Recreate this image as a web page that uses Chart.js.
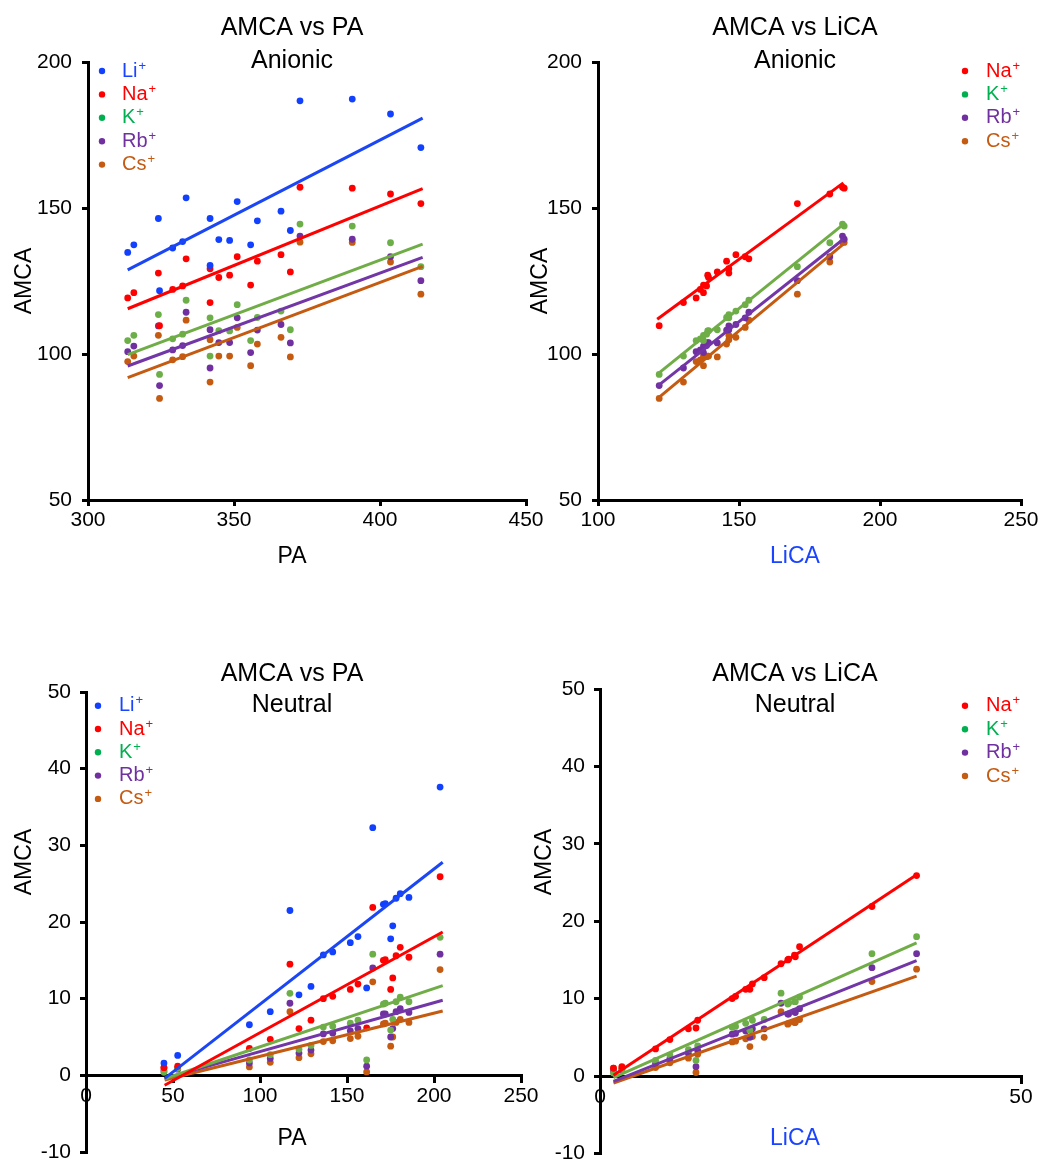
<!DOCTYPE html>
<html>
<head>
<meta charset="utf-8">
<script src="https://cdn.jsdelivr.net/npm/chart.js@4.4.1/dist/chart.umd.min.js"></script>
<style>
  body { margin: 0; background: #fff; width: 1039px; height: 1165px; overflow: hidden; position: relative; }
  canvas { position: absolute; }
</style>
</head>
<body>
<canvas id="c1" width="546" height="590" style="left:0px;top:0px"></canvas>
<canvas id="c2" width="531" height="590" style="left:510px;top:0px"></canvas>
<canvas id="c3" width="546" height="575" style="left:0px;top:600px"></canvas>
<canvas id="c4" width="531" height="575" style="left:510px;top:600px"></canvas>
<script>
// anionic set, one entry per molecule
const anPA = [313.6, 315.7, 324.1, 324.5, 329.0, 332.4, 333.6, 341.8, 341.8, 344.8, 348.5, 351.1, 355.7, 358.0, 366.1, 369.3, 372.6, 390.5, 403.6, 414.0];
const anLi = [134.8, 137.4, 146.4, 121.7, 136.3, 138.5, 153.5, 146.4, 130.3, 139.2, 138.9, 152.2, 137.4, 145.6, 148.9, 142.3, 186.7, 187.3, 182.2, 170.7];
const anNa = [119.2, 121.0, 127.7, 109.7, 122.1, 123.3, 132.6, 129.2, 117.6, 126.2, 127.0, 133.3, 123.6, 131.8, 134.0, 128.1, 157.1, 156.8, 154.8, 151.5];
const anK  = [104.6, 106.4, 113.5,  93.0, 105.2, 106.8, 118.4, 112.4,  99.3, 108.0, 107.9, 116.9, 104.6, 112.5, 114.7, 108.3, 144.5, 143.8, 138.1, 129.9];
const anRb = [100.8, 102.7, 109.6,  89.2, 101.4, 102.9, 114.3, 108.3,  95.2, 103.9, 103.9, 112.4, 100.5, 108.2, 110.1, 103.8, 140.4, 139.3, 133.3, 125.1];
const anCs = [ 97.4,  99.3, 106.4,  84.8,  98.0,  99.1, 111.6, 104.9,  90.4,  99.3,  99.3, 109.1,  96.0, 103.4, 105.7,  99.0, 138.3, 138.2, 131.5, 120.5];

// neutral set
const neuPA = [44.8, 52.7, 93.9, 105.9, 117.2, 122.4, 129.3, 136.4, 141.8, 151.9, 156.3, 161.3, 164.8, 170.9, 172.0, 175.1, 176.3, 178.2, 180.6, 185.6, 203.5];
const neuLi = [1.6, 2.6, 6.6, 8.3, 21.5, 10.5, 11.6, 15.7, 16.1, 17.3, 18.1, 11.4, 32.3, 22.3, 22.4, 17.8, 19.5, 23.1, 23.7, 23.2, 37.6];
const neuNa = [1.0, 1.2, 3.5, 4.7, 14.5, 6.1, 7.2, 10.0, 10.3, 11.2, 11.9, 6.2, 21.9, 15.0, 15.1, 11.2, 12.7, 15.6, 16.7, 15.4, 25.9];
const neuK  = [0.4, 0.9, 2.0, 2.7, 10.7, 3.4, 3.9, 6.3, 6.4, 6.8, 7.2, 2.0, 15.8, 9.3, 9.4, 5.9, 7.3, 9.6, 10.2, 9.6, 18.0];
const neuRb = [0.6, 0.8, 1.6, 2.2, 9.4, 2.9, 3.3, 5.4, 5.5, 5.8, 6.1, 1.2, 14.0, 8.0, 8.0, 5.0, 6.1, 8.3, 8.7, 8.2, 15.8];
const neuCs = [1.0, 1.0, 1.1, 1.7, 8.3, 2.3, 2.8, 4.4, 4.5, 4.8, 5.1, 0.45, 12.2, 6.7, 6.8, 3.8, 5.0, 6.9, 7.3, 6.9, 13.8];

// trend line end points
const fitAnPAx = [313.6, 414.6];
const fitAnPAy = [[128.8, 180.8], [115.5, 156.6], [99.8, 137.6], [95.9, 133.1], [91.9, 130.0]];   // Li Na K Rb Cs
const fitAnLiCAx = [121.0, 187.0];
const fitAnLiCAy = [[111.9, 158.6], [93.0, 144.4], [88.9, 139.3], [84.6, 137.6]];                 // Na K Rb Cs
const fitNeuPAx = [45.2, 205.0];
const fitNeuPAy = [[-0.4, 27.8], [-1.3, 18.7], [-0.45, 11.7], [-0.4, 9.8], [-0.6, 8.4]];
const fitNeuLiCAx = [1.6, 37.6];
const fitNeuLiCAy = [[0.1, 26.0], [-0.2, 17.2], [-0.7, 14.9], [-0.9, 12.9]];

const ionLabels = ['Li+', 'Na+', 'K+', 'Rb+', 'Cs+'];
const pointColors = ['#1140ff', '#ff0000', '#6cae48', '#7030a0', '#c55a11'];
const lineColors = ['#1a46f5', '#ff0000', '#70ad47', '#7236a6', '#c55a11'];
const textColors = ['#1a44ff', '#ff0000', '#00b050', '#7030a0', '#c55a11'];

const FONT = '"Liberation Sans", Arial, Helvetica, sans-serif';

function pts(xs, ys) {
    return xs.map((x, i) => ({ x: x, y: ys[i] }));
}

function scatterSet(k, xs, ys) {
    return {
        label: ionLabels[k],
        data: pts(xs, ys),
        showLine: false,
        backgroundColor: pointColors[k],
        pointRadius: 3.4,
        pointHoverRadius: 3.4,
        pointBorderWidth: 0,
        legendColor: k == 2 ? '#00b050' : pointColors[k],
        textColor: textColors[k]
    };
}

function fitSet(k, xs, ys) {
    return {
        isFit: true,
        data: pts(xs, ys),
        showLine: true,
        borderColor: lineColors[k],
        borderWidth: 3,
        pointRadius: 0,
        pointHoverRadius: 0,
        fill: false
    };
}

// titles, axis titles and the little legend are drawn here
const panelText = {
    id: 'panelText',
    afterDraw(chart, args, opts) {
        const ctx = chart.ctx;
        ctx.save();
        ctx.textBaseline = 'middle';
        (opts.items || []).forEach(t => {
            ctx.save();
            ctx.font = t.size + 'px ' + FONT;
            ctx.fillStyle = t.color || '#000';
            ctx.textAlign = 'center';
            ctx.translate(t.x, t.y);
            if (t.rot) ctx.rotate(t.rot);
            ctx.fillText(t.text, 0, 0);
            ctx.restore();
        });
        const lg = opts.legend;
        let i = 0;
        chart.data.datasets.forEach(ds => {
            if (ds.isFit) return;
            const y = lg.y + i * lg.dy;
            ctx.fillStyle = ds.legendColor;
            ctx.beginPath();
            ctx.arc(lg.x, y, 3.2, 0, Math.PI * 2);
            ctx.fill();
            ctx.fillStyle = ds.textColor;
            ctx.textAlign = 'left';
            ctx.font = '20px ' + FONT;
            const base = ds.label.replace('+', '');
            ctx.fillText(base, lg.textX, y);
            const w = ctx.measureText(base).width;
            ctx.font = '13px ' + FONT;
            ctx.fillText('+', lg.textX + w + 1, y - 5);
            i++;
        });
        ctx.restore();
    }
};

function axis(min, max, step, pad, size, extra) {
    return Object.assign({
        type: 'linear',
        min: min,
        max: max,
        ticks: { stepSize: step, autoSkip: false, maxRotation: 0, color: '#000', padding: pad, font: { size: 21, family: FONT } },
        grid: { drawOnChartArea: false, drawTicks: true, tickLength: 6, color: '#000', lineWidth: 3 },
        border: { display: true, color: '#000', width: 3 },
        afterFit: s => { if (s.isHorizontal()) s.height = size; else s.width = size; }
    }, extra || {});
}

function makeChart(id, datasets, scales, padding, texts) {
    return new Chart(document.getElementById(id), {
        type: 'scatter',
        data: { datasets: datasets },
        options: {
            responsive: false,
            animation: false,
            devicePixelRatio: 1,
            layout: { padding: padding },
            scales: scales,
            plugins: {
                legend: { display: false },
                tooltip: { enabled: false },
                panelText: texts
            }
        },
        plugins: [panelText]
    });
}

const anY = [anLi, anNa, anK, anRb, anCs];
const neuY = [neuLi, neuNa, neuK, neuRb, neuCs];

// AMCA vs PA, anionic
let ds1 = [];
for (let k = 0; k < 5; k++) ds1.push(fitSet(k, fitAnPAx, fitAnPAy[k]));
for (let k = 0; k < 5; k++) ds1.push(scatterSet(k, anPA, anY[k]));
makeChart('c1', ds1,
    { x: axis(300, 450, 50, 2, 90), y: axis(50, 200, 50, 10, 88) },
    { left: 0, top: 62, right: 20, bottom: 0 },
    {
        items: [
            { text: 'AMCA vs PA', x: 292, y: 28, size: 25 },
            { text: 'Anionic', x: 292, y: 61, size: 25 },
            { text: 'AMCA', x: 25, y: 281, size: 23, rot: -Math.PI / 2 },
            { text: 'PA', x: 292, y: 557, size: 23 }
        ],
        legend: { x: 102, y: 71, dy: 23.4, textX: 122 }
    });

// AMCA vs LiCA, anionic
let ds2 = [];
for (let k = 1; k < 5; k++) ds2.push(fitSet(k, fitAnLiCAx, fitAnLiCAy[k - 1]));
for (let k = 1; k < 5; k++) ds2.push(scatterSet(k, anLi, anY[k]));
makeChart('c2', ds2,
    { x: axis(100, 250, 50, 2, 90), y: axis(50, 200, 50, 10, 88) },
    { left: 0, top: 62, right: 20, bottom: 0 },
    {
        items: [
            { text: 'AMCA vs LiCA', x: 285, y: 28, size: 25 },
            { text: 'Anionic', x: 285, y: 61, size: 25 },
            { text: 'AMCA', x: 31, y: 281, size: 23, rot: -Math.PI / 2 },
            { text: 'LiCA', x: 285, y: 557, size: 23, color: '#1a44ff' }
        ],
        legend: { x: 455, y: 71, dy: 23.4, textX: 476 }
    });

// AMCA vs PA, neutral
let ds3 = [];
for (let k = 0; k < 5; k++) ds3.push(fitSet(k, fitNeuPAx, fitNeuPAy[k]));
for (let k = 0; k < 5; k++) ds3.push(scatterSet(k, neuPA, neuY[k]));
makeChart('c3', ds3,
    { x: axis(0, 250, 50, 2, 40, { position: { y: 0 } }), y: axis(-10, 50, 10, 9, 86) },
    { left: 0, top: 92, right: 25, bottom: 23 },
    {
        items: [
            { text: 'AMCA vs PA', x: 292, y: 74, size: 25 },
            { text: 'Neutral', x: 292, y: 105, size: 25 },
            { text: 'AMCA', x: 25, y: 262, size: 23, rot: -Math.PI / 2 },
            { text: 'PA', x: 292, y: 539, size: 23 }
        ],
        legend: { x: 98, y: 105.7, dy: 23.3, textX: 119 }
    });

// AMCA vs LiCA, neutral
let ds4 = [];
for (let k = 1; k < 5; k++) ds4.push(fitSet(k, fitNeuLiCAx, fitNeuLiCAy[k - 1]));
for (let k = 1; k < 5; k++) ds4.push(scatterSet(k, neuLi, neuY[k]));
makeChart('c4', ds4,
    { x: axis(0, 50, 50, 3, 40, { position: { y: 0 } }), y: axis(-10, 50, 10, 9, 90) },
    { left: 0, top: 89, right: 20, bottom: 17 },
    {
        items: [
            { text: 'AMCA vs LiCA', x: 285, y: 74, size: 25 },
            { text: 'Neutral', x: 285, y: 105, size: 25 },
            { text: 'AMCA', x: 35, y: 262, size: 23, rot: -Math.PI / 2 },
            { text: 'LiCA', x: 285, y: 539, size: 23, color: '#1a44ff' }
        ],
        legend: { x: 455, y: 105.8, dy: 23.4, textX: 476 }
    });
</script>
</body>
</html>
